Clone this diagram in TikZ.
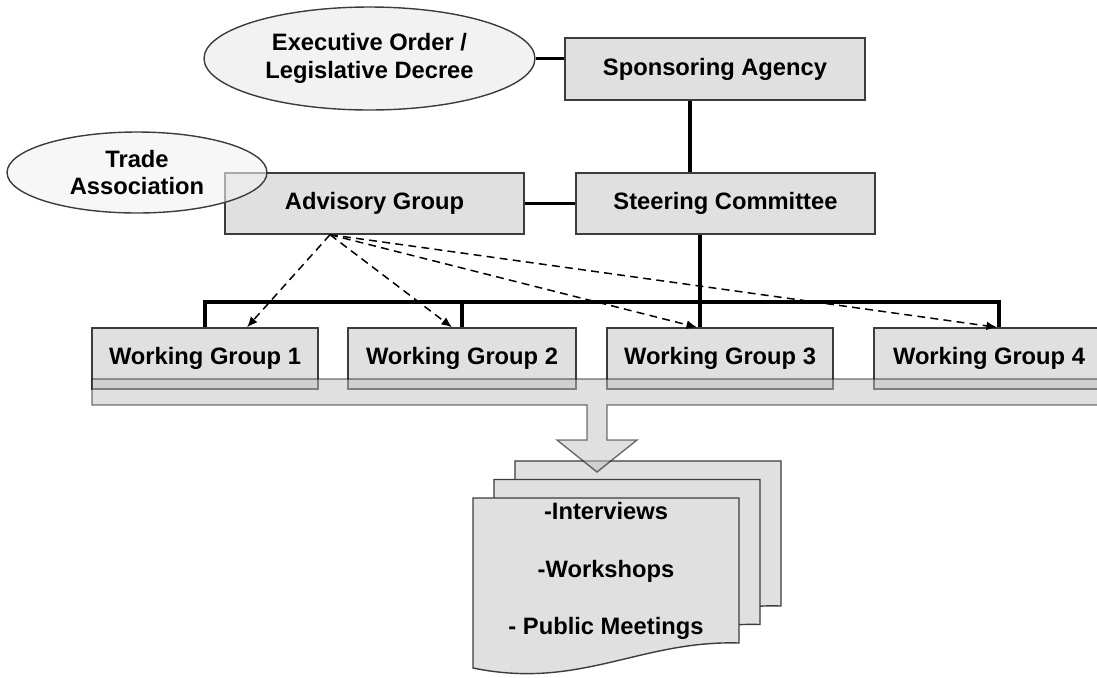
\documentclass[tikz,border=0pt]{standalone}
\usepackage{fontspec}
\setmainfont{Liberation Sans}
\usepackage{tikz}
\usetikzlibrary{shapes.geometric, arrows.meta}
\definecolor{boxfill}{HTML}{E0E0E0}
\definecolor{ovalfill}{HTML}{F2F2F2}
\definecolor{edge}{HTML}{3C3C3C}

\begin{document}
\begin{tikzpicture}[x=0.02cm, y=-0.02cm]
          % Define styles
          \tikzstyle{box} = [draw=edge, line width=0.8pt, fill=boxfill, inner sep=0pt, minimum height=1.22cm, font=\fontsize{13.5}{16}\selectfont\bfseries]
          \tikzstyle{oval} = [ellipse, draw=edge, line width=0.8pt, fill=ovalfill, inner sep=0pt, align=center, font=\fontsize{13.5}{15.5}\selectfont\bfseries]
          \tikzstyle{link} = [line width=2pt]
          \tikzstyle{advice} = [line width=0.85pt, dash pattern=on 4.5pt off 3pt, -{Latex[length=6pt,width=5pt]}]
          \tikzstyle{docpage} = [draw=edge, line width=0.8pt, fill=boxfill]
          \tikzstyle{flow} = [draw=black, draw opacity=0.55, line width=0.8pt, fill=black!24, fill opacity=0.5]

          \useasboundingbox (0,0) rectangle (1097,677);

          % Stacked pages
          \foreach \dx/\dy in {42/-37, 21/-18.5, 0/0} {
               \draw[docpage, shift={(\dx,\dy)}] (473,498) -- (739,498) -- (739,643) .. controls (640,640) and (580,690) .. (473,668) -- cycle;
          }
          \node[font=\fontsize{13.5}{32.7}\selectfont\bfseries, align=center] (tasks) at (606,571) {-Interviews\\-Workshops\\- Public Meetings};

          % Top level
          \node[oval, minimum width=6.62cm, minimum height=2.06cm] (exec) at (369.5,58.5) {Executive Order /\\Legislative Decree};
          \node[box, minimum width=6cm, minimum height=1.24cm] (spons) at (715,69) {Sponsoring Agency};

          % Committees
          \node[box, minimum width=5.98cm] (steer) at (725.5,203.5) {Steering Committee};
          \node[box, minimum width=5.98cm] (advis) at (374.5,203.5) {Advisory Group};
          \node[oval, minimum width=5.2cm, minimum height=1.62cm, fill opacity=0.6, text opacity=1] (trade) at (137,172.5) {Trade\\Association};

          % Working groups
          \node[box, minimum width=4.52cm] (wg1) at (205,358.5) {Working Group 1};
          \node[box, minimum width=4.56cm] (wg2) at (462,358.5) {Working Group 2};
          \node[box, minimum width=4.52cm] (wg3) at (720,358.5) {Working Group 3};
          \node[box, minimum width=4.6cm] (wg4) at (989,358.5) {Working Group 4};

          % Solid links
          \draw[link] (exec.east) -- (exec.east -| spons.west);
          \draw[link] ([xshift=-0.5cm]spons.south) -- ([xshift=-0.5cm]spons.south |- steer.north);
          \draw[link] (advis.east) -- (steer.west);
          \draw[link] ([xshift=-0.51cm]steer.south) -- ([xshift=-0.51cm]steer.south |- wg3.north);
          \coordinate (bus) at (0,302);
          \draw[link] (wg1.north) -- (wg1.north |- bus) -- ([xshift=0.2cm]wg4.north |- bus) -- ([xshift=0.2cm]wg4.north);
          \draw[link] (wg2.north) -- (wg2.north |- bus);

          % Dashed advice arrows
          \coordinate (advout) at ([xshift=-0.89cm]advis.south);
          \foreach \w/\s in {wg1/0.84, wg2/-0.2, wg3/-0.46, wg4/0.16} {
               \draw[advice] (advout) -- ([xshift=\s cm]\w.north);
          }

          % Bar and arrow down to the pages
          \draw[flow] (92,379) -- (1120,379) -- (1120,405) -- (607,405) -- (607,440) -- (637,440) -- (597,472) -- (557,440) -- (587,440) -- (587,405) -- (92,405) -- cycle;

     \end{tikzpicture}
\end{document}
